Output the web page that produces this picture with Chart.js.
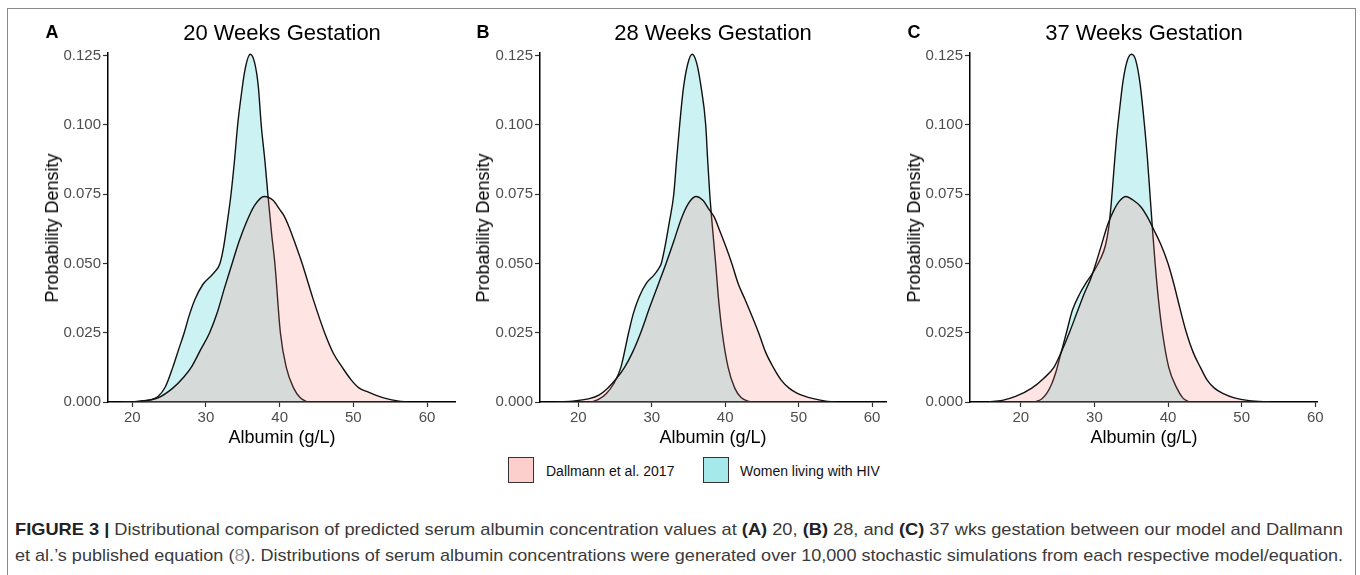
<!DOCTYPE html>
<html>
<head>
<meta charset="utf-8">
<script src="https://cdn.jsdelivr.net/npm/chart.js@4.4.1/dist/chart.umd.min.js"></script>
<style>
  html, body { margin:0; padding:0; background:#fff; }
  body { width:1360px; height:575px; position:relative; overflow:hidden; font-family:"Liberation Sans", Arial, sans-serif; }
  canvas { position:absolute; }
  .frame { position:absolute; left:7px; top:8px; width:1347px; height:600px; border:1px solid #8a8a8a; border-bottom:none; }
  .title { position:absolute; font-size:22px; color:#000; transform:translate(-50%,-50%); white-space:nowrap; line-height:1; }
  .letter { position:absolute; font-size:18px; font-weight:bold; color:#000; transform:translate(-50%,-50%); line-height:1; }
  .ytitle { position:absolute; font-size:18px; color:#000; transform:translate(-50%,-50%) rotate(-90deg); white-space:nowrap; line-height:1; }
  .xtitle { position:absolute; font-size:18px; color:#000; transform:translate(-50%,-50%); white-space:nowrap; line-height:1; }
  .lbox { position:absolute; width:24px; height:24px; border:1.5px solid #333; }
  .ltext { position:absolute; font-size:14px; color:#111; transform:translateY(-50%); white-space:nowrap; line-height:1; }
  .cap { position:absolute; left:15px; font-family:"Liberation Sans Narrow", "Liberation Sans", Arial, sans-serif; font-size:17px; color:#3a3a3a; white-space:nowrap; line-height:1; transform-origin:0 50%; }
  .cap b { color:#222; }
  .ref { color:#9a9a9a; }
</style>
</head>
<body>
<div class="frame"></div>

<canvas id="cA" width="427" height="394" style="left:48px; top:38px;"></canvas>
<canvas id="cB" width="426" height="394" style="left:480px; top:38px;"></canvas>
<canvas id="cC" width="427" height="394" style="left:910px; top:38px;"></canvas>

<div class="letter" style="left:52px; top:32px;">A</div>
<div class="letter" style="left:483px; top:32px;">B</div>
<div class="letter" style="left:914px; top:32px;">C</div>

<div class="title" style="left:282px; top:33px;" id="t0"></div>
<div class="title" style="left:713px; top:33px;" id="t1"></div>
<div class="title" style="left:1144px; top:33px;" id="t2"></div>

<div class="ytitle" style="left:52px; top:228px;">Probability Density</div>
<div class="ytitle" style="left:483px; top:228px;">Probability Density</div>
<div class="ytitle" style="left:914px; top:228px;">Probability Density</div>

<div class="xtitle" style="left:282px; top:437px;">Albumin (g/L)</div>
<div class="xtitle" style="left:713px; top:437px;">Albumin (g/L)</div>
<div class="xtitle" style="left:1144px; top:437px;">Albumin (g/L)</div>

<div class="lbox" style="left:508px; top:457px; background:rgba(248,118,109,0.35);"></div>
<div class="ltext" style="left:546px; top:471px;" id="lt1"></div>
<div class="lbox" style="left:703px; top:457px; background:rgba(0,191,196,0.35);"></div>
<div class="ltext" style="left:740px; top:471px;" id="lt2"></div>

<div class="cap" id="cap1" style="top:521px;"><b>FIGURE 3 |</b> Distributional comparison of predicted serum albumin concentration values at <b>(A)</b> 20, <b>(B)</b> 28, and <b>(C)</b> 37 wks gestation between our model and Dallmann</div>
<div class="cap" id="cap2" style="top:547px;">et al.’s published equation (<span class="ref">8</span>). Distributions of serum albumin concentrations were generated over 10,000 stochastic simulations from each respective model/equation.</div>

<script>
// ---- Data ----
const seriesNames = ["Dallmann et al. 2017", "Women living with HIV"];
const panelTitles = ["20 Weeks Gestation", "28 Weeks Gestation", "37 Weeks Gestation"];
const xTicks = [20, 30, 40, 50, 60];
const yTicks = [0, 0.025, 0.05, 0.075, 0.1, 0.125];

// Panel A (20 weeks)
const albA_dall = [18.5,21,23.5,25.5,27,28,29.3,30.5,31.5,32.5,33.55,34.5,35.5,36.6,37.9,39.1,40.0,40.6,41.3,42.2,43.05,44.5,46.1,47.3,48.5,49.7,50.8,51.8,53,54.5,56,57.5];
const denA_dall = [0,0.0003,0.0015,0.005,0.009,0.0125,0.019,0.025,0.032,0.041,0.05,0.058,0.065,0.071,0.0742,0.0728,0.0695,0.0672,0.063,0.0565,0.05,0.0375,0.025,0.0175,0.0125,0.008,0.005,0.0038,0.0025,0.0012,0.0004,0];
const albA_hiv = [19.2,21,22.5,23.5,24.5,25.5,26.3,27.05,27.7,28.5,29.6,30.5,31.2,31.9,32.4,32.9,33.4,33.9,34.3,34.8,35.3,36.0,36.6,37.1,37.5,38.0,38.4,38.9,39.35,40.1,40.9,41.9,42.8,43.8];
const denA_hiv = [0,0.0002,0.0008,0.002,0.0055,0.0125,0.019,0.025,0.031,0.037,0.0425,0.045,0.047,0.05,0.056,0.065,0.075,0.088,0.1,0.111,0.12,0.1255,0.1225,0.114,0.1,0.087,0.075,0.061,0.05,0.025,0.0125,0.005,0.0015,0];

// Panel B (28 weeks)
const albB_dall = [17.1,19.5,21.5,22.8,24,25.2,26.3,27.4,28.5,29.7,30.9,31.95,33,34,35,36,37,37.8,38.5,39.3,40.1,40.9,41.8,42.7,44.55,45.5,46.55,47.6,48.7,49.7,50.7,52,53.5,55];
const denB_dall = [0,0.0004,0.0012,0.0025,0.005,0.0085,0.0125,0.018,0.025,0.034,0.0425,0.05,0.058,0.066,0.0717,0.0742,0.0727,0.0695,0.0668,0.0615,0.056,0.05,0.0425,0.037,0.025,0.018,0.0125,0.008,0.005,0.0033,0.0022,0.0012,0.0004,0];
const albB_hiv = [21.8,22.8,23.8,24.8,25.8,26.85,27.5,28.3,29.3,30.3,30.9,31.3,31.8,32.4,33.0,33.4,33.8,34.3,34.9,35.5,36.1,36.7,37.35,37.6,37.9,38.3,38.7,39.1,39.6,40.4,41.3,42.2,43.4];
const denB_hiv = [0,0.001,0.003,0.0065,0.0125,0.025,0.032,0.038,0.043,0.0458,0.048,0.05,0.056,0.065,0.075,0.088,0.1,0.113,0.122,0.1255,0.1225,0.114,0.1,0.088,0.075,0.062,0.05,0.037,0.025,0.0125,0.005,0.0015,0];

// Panel C (37 weeks)
const albC_dall = [15.6,17.5,19.3,21.5,23.1,24.5,25.5,26.6,27.6,28.6,29.5,30.2,31.0,31.8,32.6,33.4,34.3,35.2,36.3,37.2,38.1,39.0,40.0,40.8,41.6,42.5,43.4,44.4,45.3,46.3,47.5,49,51,53.9];
const denC_dall = [0,0.0006,0.002,0.005,0.0085,0.0125,0.018,0.025,0.032,0.039,0.0445,0.05,0.057,0.064,0.069,0.0725,0.0742,0.073,0.0705,0.0668,0.062,0.057,0.05,0.0425,0.034,0.025,0.018,0.0125,0.008,0.005,0.003,0.0015,0.0005,0];
const albC_hiv = [21.9,22.8,23.5,24.2,24.8,25.3,25.8,26.3,27.0,28.0,29.0,30.0,30.8,31.5,31.95,32.3,32.6,33.0,33.4,33.9,34.5,35.05,35.6,36.2,36.8,37.2,37.55,37.9,38.25,38.7,39.25,40.1,41.2,42,42.9];
const denC_hiv = [0,0.001,0.003,0.0065,0.011,0.016,0.021,0.026,0.033,0.039,0.0435,0.0475,0.0515,0.0565,0.063,0.072,0.082,0.095,0.105,0.116,0.1235,0.1255,0.1235,0.115,0.1,0.088,0.075,0.062,0.05,0.037,0.025,0.0125,0.005,0.0015,0];

// axis limits per panel (ggplot expanded ranges)
const xLimits = [[16.71, 63.79], [14.79, 61.89], [13.11, 60.23]];
const yMax = 0.12597;

// ---- Rendering ----
const FONT = '"Liberation Sans", Arial, sans-serif';
const zip = (xs, ys) => xs.map((x, i) => ({ x: x, y: ys[i] }));

function makePanel(id, lim, dX, dY, hX, hY) {
  const ctx = document.getElementById(id).getContext('2d');
  return new Chart(ctx, {
    type: 'line',
    data: {
      datasets: [
        { label: seriesNames[0], data: zip(dX, dY), backgroundColor: 'rgba(248,118,109,0.2)',
          borderColor: '#111', borderWidth: 1.4, fill: 'origin', pointRadius: 0,
          cubicInterpolationMode: 'monotone', order: 1 },
        { label: seriesNames[1], data: zip(hX, hY), backgroundColor: 'rgba(0,191,196,0.2)',
          borderColor: '#111', borderWidth: 1.4, fill: 'origin', pointRadius: 0,
          cubicInterpolationMode: 'monotone', order: 2 }
      ]
    },
    options: {
      responsive: false, animation: false, devicePixelRatio: 1,
      layout: { padding: { top: 15, right: 20, left: 0, bottom: 0 } },
      plugins: { legend: { display: false }, tooltip: { enabled: false }, title: { display: false } },
      scales: {
        x: {
          type: 'linear', min: lim[0], max: lim[1],
          afterBuildTicks: s => { s.ticks = xTicks.map(v => ({ value: v })); },
          afterFit: s => { s.height = 30; },
          grid: { drawOnChartArea: false, drawTicks: true, tickLength: 5, color: '#333', tickColor: '#333', tickWidth: 1.2 },
          border: { display: true, color: '#000', width: 1.5 },
          ticks: { color: '#4d4d4d', font: { family: FONT, size: 15 }, padding: 2, maxRotation: 0, autoSkip: false,
                   callback: v => String(v) }
        },
        y: {
          type: 'linear', min: 0, max: yMax,
          afterBuildTicks: s => { s.ticks = yTicks.map(v => ({ value: v })); },
          afterFit: s => { s.width = 60; },
          grid: { drawOnChartArea: false, drawTicks: true, tickLength: 5, color: '#333', tickColor: '#333', tickWidth: 1.2 },
          border: { display: true, color: '#000', width: 1.5 },
          ticks: { color: '#4d4d4d', font: { family: FONT, size: 15 }, padding: 2, autoSkip: false,
                   callback: v => Number(v).toFixed(3) }
        }
      }
    }
  });
}

makePanel('cA', xLimits[0], albA_dall, denA_dall, albA_hiv, denA_hiv);
makePanel('cB', xLimits[1], albB_dall, denB_dall, albB_hiv, denB_hiv);
makePanel('cC', xLimits[2], albC_dall, denC_dall, albC_hiv, denC_hiv);

panelTitles.forEach((t, i) => { document.getElementById('t' + i).textContent = t; });
document.getElementById('lt1').textContent = seriesNames[0];
document.getElementById('lt2').textContent = seriesNames[1];

// fit caption lines to the justified width of the reference
['cap1', 'cap2'].forEach(id => {
  const el = document.getElementById(id);
  const w = el.getBoundingClientRect().width;
  el.style.transform = 'scaleX(' + (1328 / w) + ')';
});
</script>
</body>
</html>
